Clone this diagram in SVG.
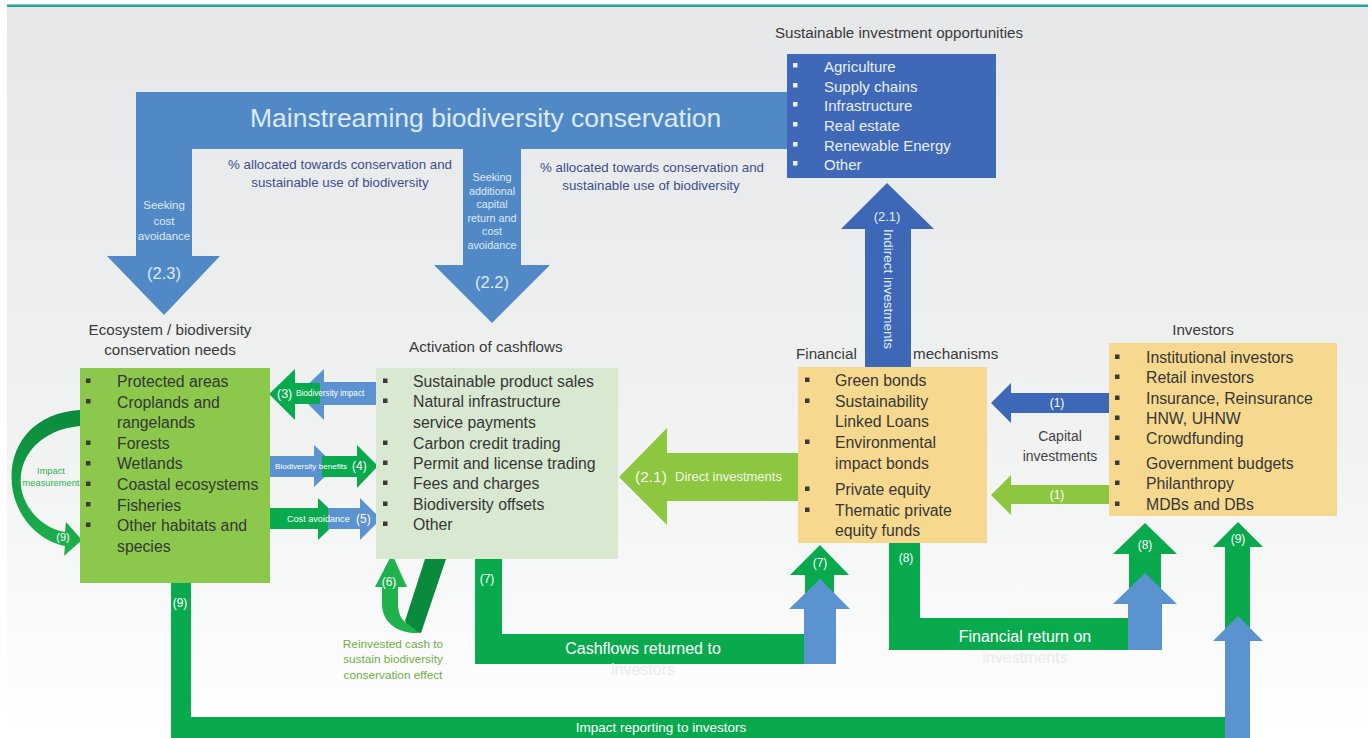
<svg xmlns="http://www.w3.org/2000/svg" width="1368" height="738" viewBox="0 0 1368 738">
<defs>
<linearGradient id="bg" x1="0" y1="0" x2="0" y2="1">
<stop offset="0" stop-color="#e5e7e8"/>
<stop offset="0.6" stop-color="#f1f2f2"/>
<stop offset="1" stop-color="#ffffff"/>
</linearGradient>
<linearGradient id="curveG" x1="0" y1="0" x2="0" y2="1">
<stop offset="0" stop-color="#0a8a3d"/>
<stop offset="1" stop-color="#1eb24d"/>
</linearGradient>
<style>
text{font-family:"Liberation Sans",Arial,sans-serif;}
.hdr{font-size:15.2px;fill:#3a3a3a;}
.item{font-size:15.8px;fill:#363636;}
.bitem{font-size:15px;fill:#e8eef8;}
.bul{fill:#3a3a3a;}
.wbul{fill:#e8eef8;}
.w{fill:#ffffff;}
.lbl{fill:#ffffff;font-size:12px;}
.blueT{fill:#3a4f8f;font-size:13.3px;}
.faint{fill:#e8ecec;font-size:16px;}
.g{fill:#09aa4e;}
.lb{fill:#5b93d0;}
.db{fill:#3d68b7;}
.lg{fill:#8dc63f;}
</style>
</defs>
<rect x="0" y="0" width="1368" height="738" fill="#ffffff"/>
<rect x="7" y="7" width="1361" height="731" fill="url(#bg)"/>
<rect x="7" y="4.5" width="1361" height="2.5" fill="#1fa39a"/>

<g id="connectors">
<!-- Mainstreaming arrow -->
<path fill="#5089c6" d="M136,92 L800,92 L800,149 L521,149 L521,265 L550,265 L492,323 L434,265 L463,265 L463,149 L192,149 L192,256 L220,256 L164,315 L107,256 L136,256 Z"/>
<text x="250" y="127" font-size="26.5" fill="#dde9f6">Mainstreaming biodiversity conservation</text>
<text class="blueT" x="340" y="169" text-anchor="middle">% allocated towards conservation and</text>
<text class="blueT" x="340" y="187" text-anchor="middle">sustainable use of biodiversity</text>
<text class="blueT" x="652" y="172" text-anchor="middle">% allocated towards conservation and</text>
<text class="blueT" x="651" y="190" text-anchor="middle">sustainable use of biodiversity</text>
<g fill="#dfeaf6" font-size="11.5" text-anchor="middle">
<text x="164" y="209">Seeking</text>
<text x="164" y="225">cost</text>
<text x="164" y="240">avoidance</text>
</g>
<text x="164" y="279" font-size="16.5" fill="#dfeaf6" text-anchor="middle">(2.3)</text>
<g fill="#dfeaf6" font-size="10.8" text-anchor="middle">
<text x="492" y="181">Seeking</text>
<text x="492" y="194.6">additional</text>
<text x="492" y="208.2">capital</text>
<text x="492" y="221.8">return and</text>
<text x="492" y="235.4">cost</text>
<text x="492" y="249">avoidance</text>
</g>
<text x="492" y="288" font-size="16.5" fill="#dfeaf6" text-anchor="middle">(2.2)</text>

<!-- Indirect investments (2.1) -->
<polygon class="db" points="865,367 865,229 841,229 887,183 934,229 911,229 911,367"/>
<text x="887" y="220.5" font-size="13" fill="#e3ebf7" text-anchor="middle">(2.1)</text>
<text x="888" y="289" font-size="13.5" fill="#e3ebf7" text-anchor="middle" dominant-baseline="central" transform="rotate(90 888 289)">Indirect investments</text>

<!-- Direct investments -->
<polygon class="lg" points="798,453 667,453 667,428 619,477 667,525 667,501 798,501"/>
<text x="635" y="482" font-size="15.5" fill="#f2f8ea">(2.1)</text>
<text x="675" y="481" font-size="13" fill="#f2f8ea">Direct investments</text>

<!-- Capital investments (1) -->
<polygon class="db" points="1109,393 1011,393 1011,383 991,403 1011,423 1011,413 1109,413"/>
<polygon class="lg" points="1109,485 1011,485 1011,475 991,495 1011,515 1011,504 1109,504"/>
<text class="lbl" x="1057" y="407" text-anchor="middle">(1)</text>
<text class="lbl" x="1057" y="499" text-anchor="middle">(1)</text>
<text x="1060" y="441" font-size="14" fill="#444" text-anchor="middle">Capital</text>
<text x="1060" y="461" font-size="14" fill="#444" text-anchor="middle">investments</text>

<!-- (3) Biodiversity impact -->
<polygon class="lb" points="376,382 324,382 324,369 298,394 324,420 324,405 376,405"/>
<polygon class="g" points="320,383 295,383 295,369 269,394 295,420 295,404 320,404"/>
<text x="277" y="398" font-size="12.5" class="w">(3)</text>
<text x="296" y="396" font-size="8.2" class="w">Biodiversity impact</text>

<!-- (4) Biodiversity benefits -->
<polygon class="lb" points="270,456 314,456 314,445 336,466 314,487 314,477 270,477"/>
<polygon class="g" points="322,456 357,456 357,445 378,466 357,488 357,477 322,477"/>
<text x="275" y="469" font-size="8.1" class="w">Biodiversity benefits</text>
<text x="352" y="470" font-size="12" class="w">(4)</text>

<!-- (5) Cost avoidance -->
<polygon class="g" points="268,508 318,508 318,498 340,519 318,540 318,529 268,529"/>
<polygon class="lb" points="328,508 360,508 360,498 381,519 360,540 360,529 328,529"/>
<text x="287" y="522" font-size="9.1" class="w">Cost avoidance</text>
<text x="356" y="523" font-size="12" class="w">(5)</text>

<!-- (9) Impact measurement curved arrow -->
<path fill="url(#curveG)" d="M80,410 C30,413 5,450 13,492 C19,520 40,541 65,546 L64,556 L82,540 L66,522 L65,532 C46,529 28,514 22,492 C15,462 36,430 80,426 Z"/>
<text x="51" y="474" font-size="9.3" fill="#2bb34b" text-anchor="middle">Impact</text>
<text x="51" y="486" font-size="9.3" fill="#2bb34b" text-anchor="middle">measurement</text>
<text x="63" y="541" font-size="11" class="w" text-anchor="middle">(9)</text>

<!-- (6) reinvested loop -->
<path fill="#0a8a3d" d="M425,559 L446,559 L421,633 C414,632 409,628 405,621 Z"/>
<path fill="#1eb24d" d="M375,587 L392,554 L407,587 L398,587 L398,604 C398,614 402,621 408,624 L419,633 C396,634 382,621 382,604 L382,587 Z"/>
<text x="389" y="586" font-size="12" class="w" text-anchor="middle">(6)</text>
<g font-size="11.8" fill="#6fae45" text-anchor="middle">
<text x="393" y="648">Reinvested cash to</text>
<text x="393" y="663">sustain biodiversity</text>
<text x="393" y="679">conservation effect</text>
</g>

<!-- (7) cashflows returned -->
<path class="g" d="M475,559 L502,559 L502,634 L810,634 L810,664 L475,664 Z"/>
<polygon class="g" points="805,600 805,575 790,575 820,545 849,575 834,575 834,600"/>
<polygon class="lb" points="804,664 804,609 789,609 820,579 850,609 836,609 836,664"/>
<text class="lbl" x="487" y="583" text-anchor="middle">(7)</text>
<text class="lbl" x="820" y="567" text-anchor="middle">(7)</text>
<text x="643" y="654" font-size="16" class="w" text-anchor="middle">Cashflows returned to</text>
<text class="faint" x="643" y="675" text-anchor="middle">investors</text>

<!-- (8) financial return -->
<path class="g" d="M889,543 L920,543 L920,618 L1135,618 L1135,650 L889,650 Z"/>
<polygon class="g" points="1129,590 1129,554 1113,554 1145,523 1177,554 1161,554 1161,590"/>
<polygon class="lb" points="1128,650 1128,604 1113,604 1145,573 1177,604 1162,604 1162,650"/>
<text class="lbl" x="906" y="562" text-anchor="middle">(8)</text>
<text class="lbl" x="1145" y="549" text-anchor="middle">(8)</text>
<text x="1025" y="642" font-size="16" class="w" text-anchor="middle">Financial return on</text>
<text class="faint" x="1025" y="663" text-anchor="middle">investments</text>

<!-- (9) impact reporting -->
<path class="g" d="M171,583 L191,583 L191,717 L1230,717 L1230,738 L171,738 Z"/>
<polygon class="g" points="1225,630 1225,547 1213,547 1238,522 1263,547 1250,547 1250,630"/>
<polygon class="lb" points="1225,738 1225,641 1213,641 1238,616 1263,641 1250,641 1250,738"/>
<text class="lbl" x="180" y="607" text-anchor="middle">(9)</text>
<text class="lbl" x="1238" y="543" text-anchor="middle">(9)</text>
<text x="661" y="732" font-size="13.5" class="w" text-anchor="middle">Impact reporting to investors</text>
</g>

<g id="sustainable-opportunities">
<text class="hdr" x="899" y="38" text-anchor="middle" font-size="15.5">Sustainable investment opportunities</text>
<rect x="787" y="54" width="209" height="124" fill="#3f69b6"/>
<g class="wbul">
<rect x="793" y="63" width="4.5" height="4.5"/>
<rect x="793" y="83" width="4.5" height="4.5"/>
<rect x="793" y="102" width="4.5" height="4.5"/>
<rect x="793" y="122" width="4.5" height="4.5"/>
<rect x="793" y="142" width="4.5" height="4.5"/>
<rect x="793" y="161" width="4.5" height="4.5"/>
</g>
<text class="bitem" x="824" y="72">Agriculture</text>
<text class="bitem" x="824" y="92">Supply chains</text>
<text class="bitem" x="824" y="111">Infrastructure</text>
<text class="bitem" x="824" y="131">Real estate</text>
<text class="bitem" x="824" y="151">Renewable Energy</text>
<text class="bitem" x="824" y="170">Other</text>
</g>

<g id="ecosystem-needs">
<text class="hdr" x="170" y="335" text-anchor="middle">Ecosystem / biodiversity</text>
<text class="hdr" x="170" y="355" text-anchor="middle">conservation needs</text>
<rect x="80" y="368" width="190" height="215" fill="#8cc84b"/>
<g class="bul">
<rect x="86" y="378.5" width="4.5" height="4.5"/>
<rect x="86" y="399" width="4.5" height="4.5"/>
<rect x="86" y="440.5" width="4.5" height="4.5"/>
<rect x="86" y="461" width="4.5" height="4.5"/>
<rect x="86" y="481.5" width="4.5" height="4.5"/>
<rect x="86" y="502" width="4.5" height="4.5"/>
<rect x="86" y="522.5" width="4.5" height="4.5"/>
</g>
<text class="item" x="117" y="387">Protected areas</text>
<text class="item" x="117" y="407.6">Croplands and</text>
<text class="item" x="117" y="428.2">rangelands</text>
<text class="item" x="117" y="448.8">Forests</text>
<text class="item" x="117" y="469.4">Wetlands</text>
<text class="item" x="117" y="490">Coastal ecosystems</text>
<text class="item" x="117" y="510.6">Fisheries</text>
<text class="item" x="117" y="531.2">Other habitats and</text>
<text class="item" x="117" y="551.8">species</text>
</g>

<g id="activation-cashflows">
<text class="hdr" x="409" y="352">Activation of cashflows</text>
<rect x="376" y="368" width="242" height="191" fill="#d9e8d0"/>
<g class="bul">
<rect x="383" y="378.5" width="4.5" height="4.5"/>
<rect x="383" y="398.5" width="4.5" height="4.5"/>
<rect x="383" y="440.5" width="4.5" height="4.5"/>
<rect x="383" y="460.5" width="4.5" height="4.5"/>
<rect x="383" y="480.5" width="4.5" height="4.5"/>
<rect x="383" y="501.5" width="4.5" height="4.5"/>
<rect x="383" y="521.5" width="4.5" height="4.5"/>
</g>
<text class="item" x="413" y="386.5">Sustainable product sales</text>
<text class="item" x="413" y="406.5">Natural infrastructure</text>
<text class="item" x="413" y="427.5">service payments</text>
<text class="item" x="413" y="448.5">Carbon credit trading</text>
<text class="item" x="413" y="468.5">Permit and license trading</text>
<text class="item" x="413" y="488.5">Fees and charges</text>
<text class="item" x="413" y="509.5">Biodiversity offsets</text>
<text class="item" x="413" y="529.5">Other</text>
</g>

<g id="financial-mechanisms">
<text class="hdr" x="796" y="359">Financial</text>
<text class="hdr" x="913" y="359">mechanisms</text>
<rect x="798" y="367" width="189" height="176" fill="#f6d98e"/>
<g class="bul">
<rect x="805" y="377.5" width="4.5" height="4.5"/>
<rect x="805" y="398.5" width="4.5" height="4.5"/>
<rect x="805" y="439.5" width="4.5" height="4.5"/>
<rect x="805" y="486.5" width="4.5" height="4.5"/>
<rect x="805" y="507.5" width="4.5" height="4.5"/>
</g>
<text class="item" x="835" y="385.5">Green bonds</text>
<text class="item" x="835" y="406.5">Sustainability</text>
<text class="item" x="835" y="426.5">Linked Loans</text>
<text class="item" x="835" y="447.5">Environmental</text>
<text class="item" x="835" y="468.5">impact bonds</text>
<text class="item" x="835" y="494.5">Private equity</text>
<text class="item" x="835" y="515.5">Thematic private</text>
<text class="item" x="835" y="535.5">equity funds</text>
</g>

<g id="investors">
<text class="hdr" x="1203" y="335" text-anchor="middle">Investors</text>
<rect x="1109" y="343" width="228" height="173" fill="#f6d98e"/>
<g class="bul">
<rect x="1115" y="354.5" width="4.5" height="4.5"/>
<rect x="1115" y="374.5" width="4.5" height="4.5"/>
<rect x="1115" y="395.5" width="4.5" height="4.5"/>
<rect x="1115" y="415.5" width="4.5" height="4.5"/>
<rect x="1115" y="435.5" width="4.5" height="4.5"/>
<rect x="1115" y="460.5" width="4.5" height="4.5"/>
<rect x="1115" y="480.5" width="4.5" height="4.5"/>
<rect x="1115" y="501.5" width="4.5" height="4.5"/>
</g>
<text class="item" x="1146" y="362.5">Institutional investors</text>
<text class="item" x="1146" y="382.5">Retail investors</text>
<text class="item" x="1146" y="403.5">Insurance, Reinsurance</text>
<text class="item" x="1146" y="423.5">HNW, UHNW</text>
<text class="item" x="1146" y="443.5">Crowdfunding</text>
<text class="item" x="1146" y="468.5">Government budgets</text>
<text class="item" x="1146" y="488.5">Philanthropy</text>
<text class="item" x="1146" y="509.5">MDBs and DBs</text>
</g>
</svg>
